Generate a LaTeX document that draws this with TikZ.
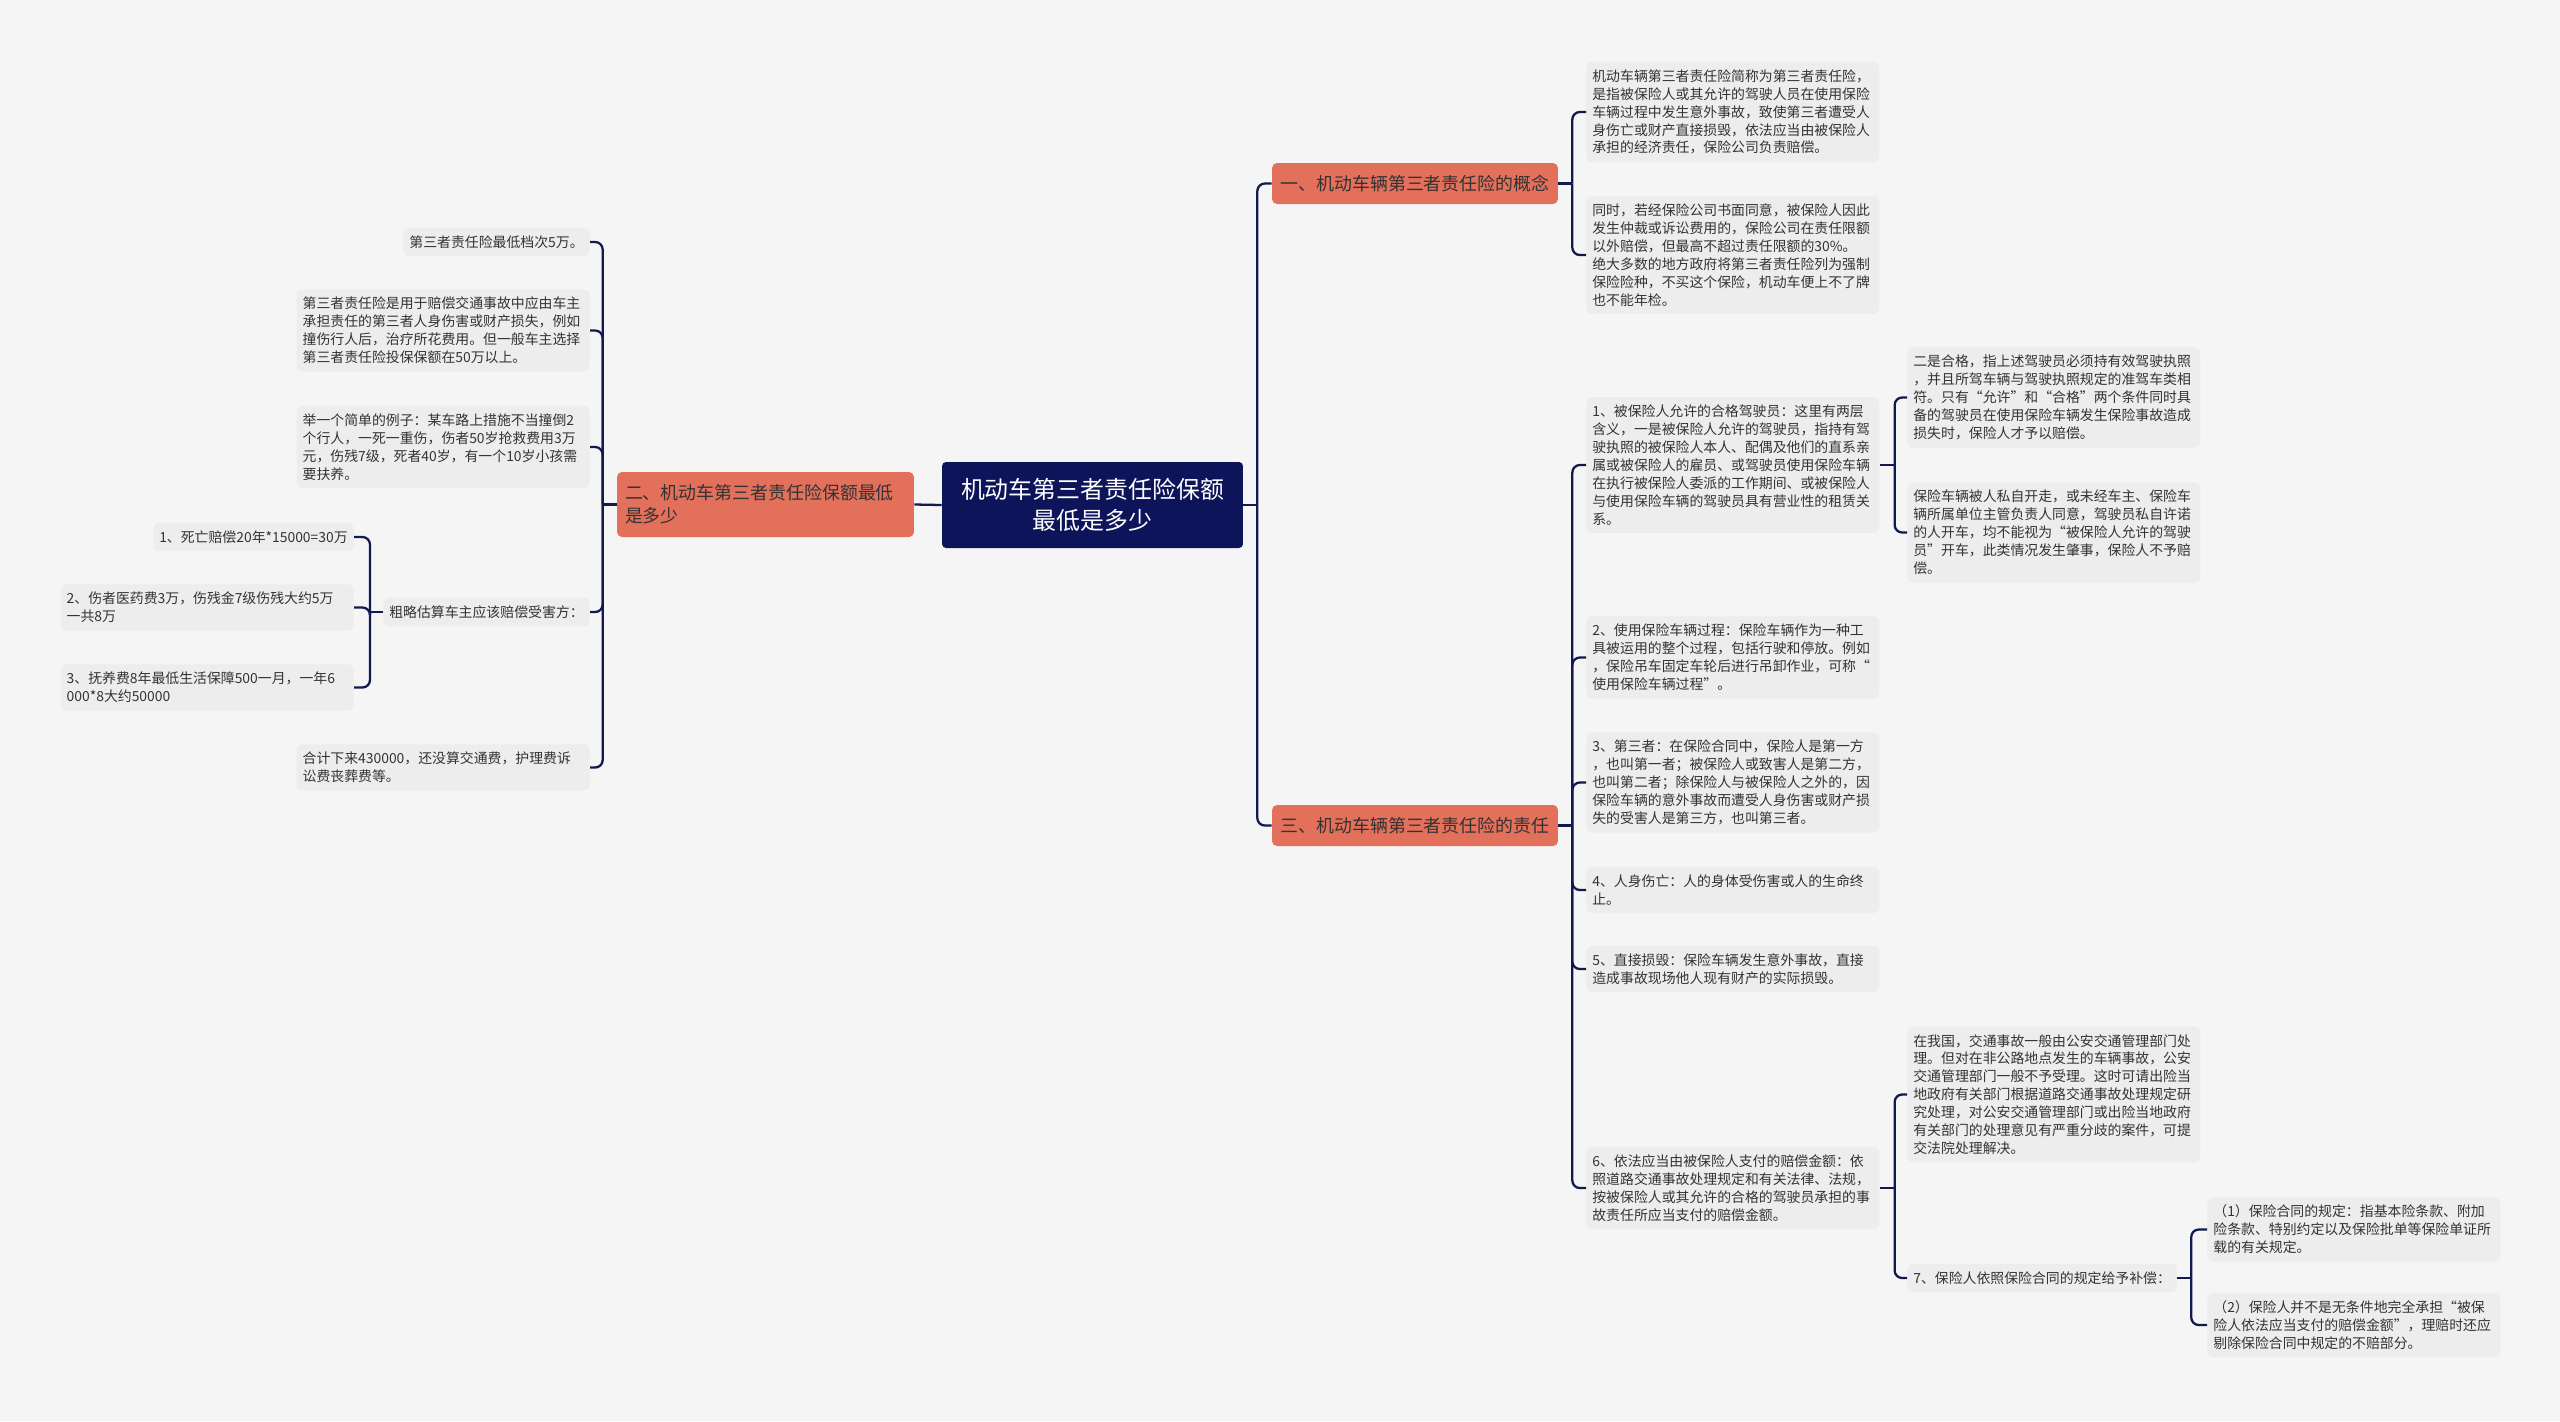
\documentclass[tikz,border=0pt]{standalone}
\usepackage{fontspec}
\setmainfont{Noto Sans CJK SC}
\usepackage{xcolor}
\definecolor{bgcol}{HTML}{F5F5F5}
\definecolor{rootcol}{HTML}{0D145A}
\definecolor{linecol}{HTML}{111A4F}
\definecolor{branchcol}{HTML}{E2705B}
\definecolor{leafcol}{HTML}{EDEDED}
\definecolor{txtcol}{HTML}{333333}
\begin{document}
\begin{tikzpicture}[x=0.02cm,y=-0.02cm,
  leaf/.style={fill=leafcol,rounded corners=0.12cm,inner xsep=0.12cm,inner ysep=4.4pt,align=left,text=txtcol,font=\fontsize{7.9pt}{10.2pt}\selectfont},
  wideleaf/.style={leaf,text width=5.62cm},
  branch/.style={fill=branchcol,rounded corners=0.1cm,text=txtcol,font=\fontsize{10.2pt}{13pt}\selectfont,minimum width=5.72cm,minimum height=0.82cm,inner sep=0pt},
  root/.style={fill=rootcol,rounded corners=0.08cm,text=white,align=center,font=\fontsize{13.6pt}{18pt}\selectfont,minimum width=6.02cm,minimum height=1.72cm,inner sep=0pt},
  link/.style={draw=linecol,line width=1.3pt,rounded corners=0.15cm}]
\fill[bgcol] (0,0) rectangle (2560,1421);

\node[root] (root) at (1092.5,505) {机动车第三者责任险保额\\最低是多少};
\node[branch] (b1) at (1415,183.5) {一、机动车辆第三者责任险的概念};
\node[branch,minimum width=5.94cm,minimum height=1.3cm,text width=5.62cm,align=left,font=\fontsize{10.2pt}{13.2pt}\selectfont] (b2) at (765.5,504.5) {二、机动车第三者责任险保额最低\\是多少};
\node[branch] (b3) at (1415,825.5) {三、机动车辆第三者责任险的责任};

\node[leaf,anchor=east,align=right] (l1) at (590,242) {第三者责任险最低档次5万。};
\node[wideleaf,anchor=east] (l2) at (590,330.5) {第三者责任险是用于赔偿交通事故中应由车主\\承担责任的第三者人身伤害或财产损失，例如\\撞伤行人后，治疗所花费用。但一般车主选择\\第三者责任险投保保额在50万以上。};
\node[wideleaf,anchor=east] (l3) at (590,447) {举一个简单的例子：某车路上措施不当撞倒2\\个行人，一死一重伤，伤者50岁抢救费用3万\\元，伤残7级，死者40岁，有一个10岁小孩需\\要扶养。};
\node[leaf,anchor=east] (l4) at (590,612) {粗略估算车主应该赔偿受害方：};
\node[wideleaf,anchor=east] (l5) at (590,767.5) {合计下来430000，还没算交通费，护理费诉\\讼费丧葬费等。};
\node[leaf,anchor=east] (l4a) at (354,537) {1、死亡赔偿20年*15000=30万};
\node[wideleaf,anchor=east] (l4b) at (354,607.5) {2、伤者医药费3万，伤残金7级伤残大约5万\\一共8万};
\node[wideleaf,anchor=east] (l4c) at (354,687.5) {3、抚养费8年最低生活保障500一月，一年6\\000*8大约50000};

\node[wideleaf,anchor=west] (r1a) at (1586,112) {机动车辆第三者责任险简称为第三者责任险，\\是指被保险人或其允许的驾驶人员在使用保险\\车辆过程中发生意外事故，致使第三者遭受人\\身伤亡或财产直接损毁，依法应当由被保险人\\承担的经济责任，保险公司负责赔偿。};
\node[wideleaf,anchor=west] (r1b) at (1586,255) {同时，若经保险公司书面同意，被保险人因此\\发生仲裁或诉讼费用的，保险公司在责任限额\\以外赔偿，但最高不超过责任限额的30\%。\\绝大多数的地方政府将第三者责任险列为强制\\保险险种，不买这个保险，机动车便上不了牌\\也不能年检。};

\node[wideleaf,anchor=west] (c1) at (1586,465) {1、被保险人允许的合格驾驶员：这里有两层\\含义，一是被保险人允许的驾驶员，指持有驾\\驶执照的被保险人本人、配偶及他们的直系亲\\属或被保险人的雇员、或驾驶员使用保险车辆\\在执行被保险人委派的工作期间、或被保险人\\与使用保险车辆的驾驶员具有营业性的租赁关\\系。};
\node[wideleaf,anchor=west] (c2) at (1586,657.5) {2、使用保险车辆过程：保险车辆作为一种工\\具被运用的整个过程，包括行驶和停放。例如\\，保险吊车固定车轮后进行吊卸作业，可称“\\使用保险车辆过程”。};
\node[wideleaf,anchor=west] (c3) at (1586,782.5) {3、第三者：在保险合同中，保险人是第一方\\，也叫第一者；被保险人或致害人是第二方，\\也叫第二者；除保险人与被保险人之外的，因\\保险车辆的意外事故而遭受人身伤害或财产损\\失的受害人是第三方，也叫第三者。};
\node[wideleaf,anchor=west] (c4) at (1586,890) {4、人身伤亡：人的身体受伤害或人的生命终\\止。};
\node[wideleaf,anchor=west] (c5) at (1586,969) {5、直接损毁：保险车辆发生意外事故，直接\\造成事故现场他人现有财产的实际损毁。};
\node[wideleaf,anchor=west] (c6) at (1586,1188) {6、依法应当由被保险人支付的赔偿金额：依\\照道路交通事故处理规定和有关法律、法规，\\按被保险人或其允许的合格的驾驶员承担的事\\故责任所应当支付的赔偿金额。};

\node[wideleaf,anchor=west] (c1a) at (1907,397.5) {二是合格，指上述驾驶员必须持有效驾驶执照\\，并且所驾车辆与驾驶执照规定的准驾车类相\\符。只有“允许”和“合格”两个条件同时具\\备的驾驶员在使用保险车辆发生保险事故造成\\损失时，保险人才予以赔偿。};
\node[wideleaf,anchor=west] (c1b) at (1907,532.5) {保险车辆被人私自开走，或未经车主、保险车\\辆所属单位主管负责人同意，驾驶员私自许诺\\的人开车，均不能视为“被保险人允许的驾驶\\员”开车，此类情况发生肇事，保险人不予赔\\偿。};
\node[wideleaf,anchor=west] (c6a) at (1907,1094.5) {在我国，交通事故一般由公安交通管理部门处\\理。但对在非公路地点发生的车辆事故，公安\\交通管理部门一般不予受理。这时可请出险当\\地政府有关部门根据道路交通事故处理规定研\\究处理，对公安交通管理部门或出险当地政府\\有关部门的处理意见有严重分歧的案件，可提\\交法院处理解决。};
\node[leaf,anchor=west] (c6b) at (1907,1278) {7、保险人依照保险合同的规定给予补偿：};
\node[wideleaf,anchor=west] (d1) at (2207,1229.5) {（1）保险合同的规定：指基本险条款、附加\\险条款、特别约定以及保险批单等保险单证所\\载的有关规定。};
\node[wideleaf,anchor=west] (d2) at (2207,1325) {（2）保险人并不是无条件地完全承担“被保\\险人依法应当支付的赔偿金额”，理赔时还应\\剔除保险合同中规定的不赔部分。};

\draw[link] (root.west) -- (b2.east);
\coordinate (jr) at ([xshift=0.28cm]root.east);
\draw[link] (root.east) -- (jr);
\foreach \n in {b1,b3} \draw[link] (jr) |- (\n.west);

\coordinate (j2) at ([xshift=-0.28cm]b2.west);
\draw[link] (b2.west) -- (j2);
\foreach \n in {l1,l2,l3,l4,l5} \draw[link] (j2) |- (\n.east);

\coordinate (j4) at ([xshift=-0.26cm]l4.west);
\draw[link] (l4.west) -- (j4);
\foreach \n in {l4a,l4b,l4c} \draw[link] (j4) |- (\n.east);

\coordinate (j1) at ([xshift=0.28cm]b1.east);
\draw[link] (b1.east) -- (j1);
\foreach \n in {r1a,r1b} \draw[link] (j1) |- (\n.west);

\coordinate (j3) at ([xshift=0.28cm]b3.east);
\draw[link] (b3.east) -- (j3);
\foreach \n in {c1,c2,c3,c4,c5,c6} \draw[link] (j3) |- (\n.west);

\coordinate (jc1) at ([xshift=0.3cm]c1.east);
\draw[link] (c1.east) -- (jc1);
\foreach \n in {c1a,c1b} \draw[link] (jc1) |- (\n.west);

\coordinate (jc6) at ([xshift=0.3cm]c6.east);
\draw[link] (c6.east) -- (jc6);
\foreach \n in {c6a,c6b} \draw[link] (jc6) |- (\n.west);

\coordinate (jc7) at ([xshift=0.28cm]c6b.east);
\draw[link] (c6b.east) -- (jc7);
\foreach \n in {d1,d2} \draw[link] (jc7) |- (\n.west);
\end{tikzpicture}
\end{document}
